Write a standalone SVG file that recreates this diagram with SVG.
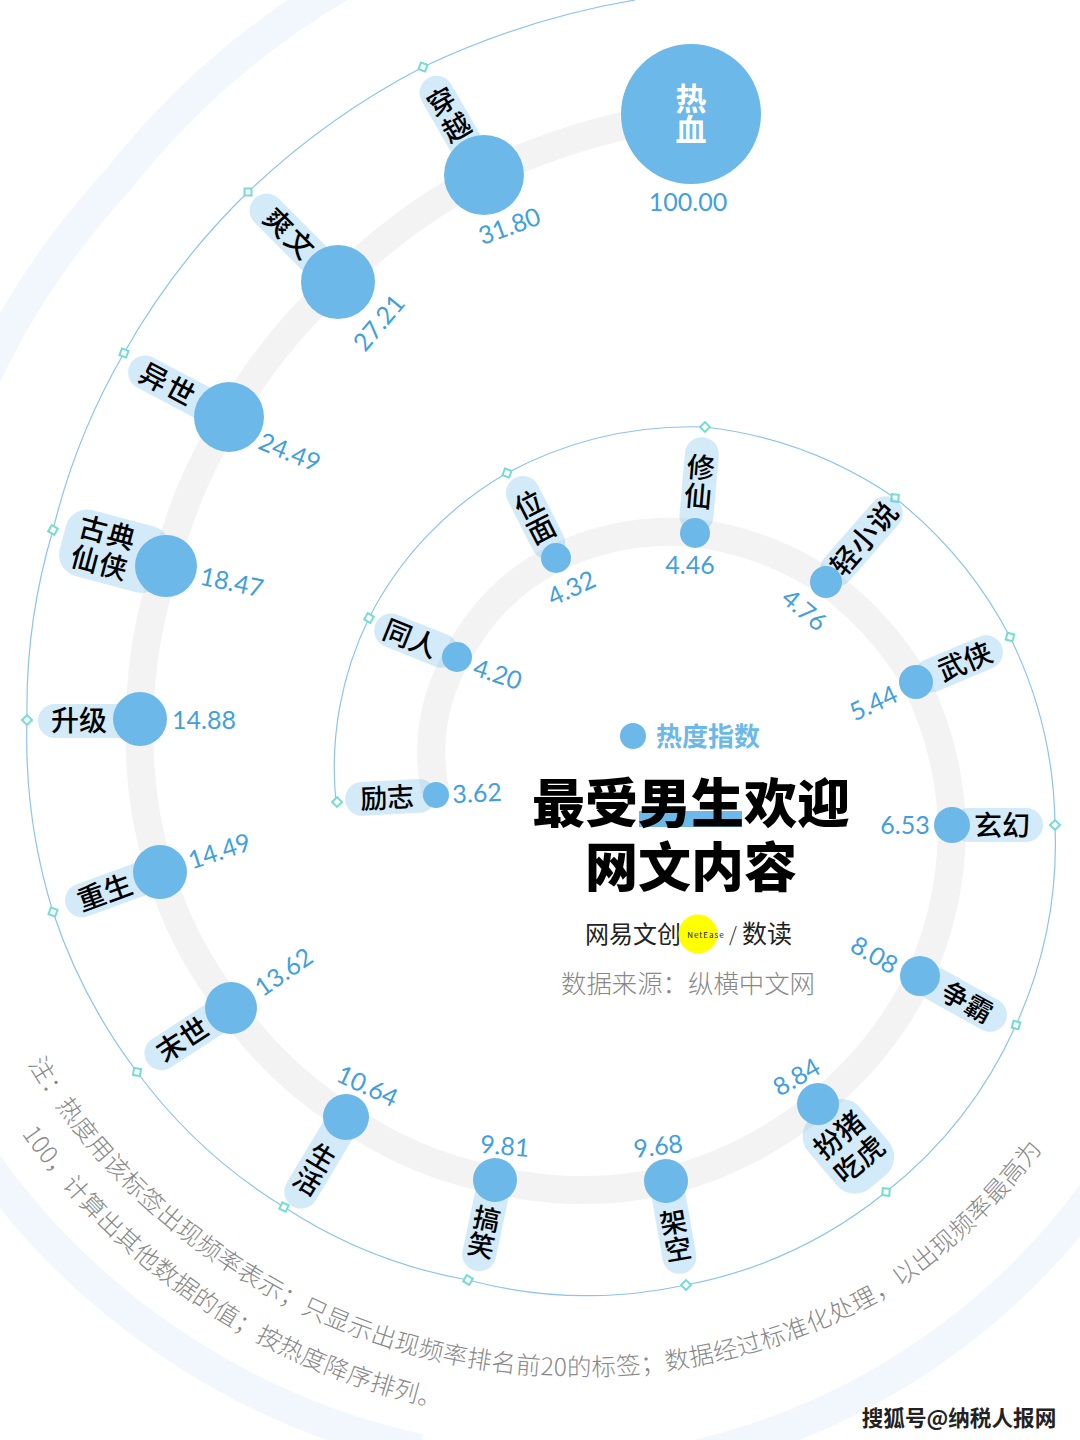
<svg xmlns="http://www.w3.org/2000/svg" width="1080" height="1440" viewBox="0 0 1080 1440">
<style>
text{font-family:"Noto Sans CJK SC","Noto Sans",sans-serif;dominant-baseline:central;text-anchor:middle}
.band{fill:none;stroke:#f1f7fc;stroke-width:32}
.track{fill:none;stroke:#f3f3f3;stroke-width:28}
.thin{fill:none;stroke:#8cc4ec;stroke-width:1.2}
.dot{fill:#6cb8e8}
.pill{fill:#6cb8e8;fill-opacity:.3}
.lab{font-size:28px;font-weight:500;fill:#000;transform:translateY(-.055em)}
.val{font-family:Lato,"Noto Sans",sans-serif;font-size:25px;fill:#419fe0}
.note{font-size:24.5px;font-weight:300;fill:#888;text-anchor:start}
.dia{fill:#fff;stroke:#74dcd3;stroke-width:2}
</style>
<defs>
<rect id="d" class="dia" x="-3.5" y="-3.5" width="7" height="7"/>
<path id="n1" d="M30,1045 A630 630 0 0 0 272,1285 A620 620 0 0 0 585,1365 A613 613 0 0 0 876,1290 A600 600 0 0 0 1065,1095"/>
<path id="n2" d="M22,1115 A676 676 0 0 0 470,1403"/>
</defs>
<rect width="1080" height="1440" fill="#fff"/>
<g id="connectors">
<path class="band" d="M350,-20 A800 800 0 0 0 118,180 A780 780 0 0 0 -30,410"/>
<path class="band" d="M-30,1140 A725 725 0 0 0 420,1450"/>
<path class="band" d="M1110,1170 A690 690 0 0 1 700,1455"/>
<path class="track" d="M691,114 A663 663 0 0 0 484,175 A605 605 0 0 0 338,282 A550 550 0 0 0 229,417 A505 505 0 0 0 166,566 A470 470 0 0 0 140,719 A446 446 0 0 0 160,872 A425 425 0 0 0 231,1008 A407 407 0 0 0 346,1117 A396 396 0 0 0 495,1180 A390 390 0 0 0 666,1181 A384 384 0 0 0 818,1104 A377 377 0 0 0 920,976 A368 368 0 0 0 952,825 A355 355 0 0 0 916,682 A334 334 0 0 0 826,582 A304 304 0 0 0 695,533 A265 265 0 0 0 556,558 A220 220 0 0 0 457,657 A190 190 0 0 0 436,795"/>
<path class="thin" d="M336,802 A340 340 0 0 1 369,618 A351 351 0 0 1 507,473 A393 393 0 0 1 705,427 A421 421 0 0 1 895,498 A433 433 0 0 1 1010,637 A435 435 0 0 1 1055,825 A438 438 0 0 1 1016,1025 A445 445 0 0 1 886,1192 A455 455 0 0 1 686,1285 A467 467 0 0 1 468,1280 A490 490 0 0 1 284,1207 A522 522 0 0 1 137,1072 A556 556 0 0 1 53,912 A588 588 0 0 1 27,720 A622 622 0 0 1 53,530 A664 664 0 0 1 124,353 A713 713 0 0 1 248,192 A763 763 0 0 1 423,67 A809 809 0 0 1 635,0"/>
<use href="#d" transform="translate(337,802) rotate(45)"/>
<use href="#d" transform="translate(369,618) rotate(30)"/>
<use href="#d" transform="translate(507,473) rotate(20)"/>
<use href="#d" transform="translate(705,427) rotate(45)"/>
<use href="#d" transform="translate(895,498) rotate(5)"/>
<use href="#d" transform="translate(1010,637) rotate(15)"/>
<use href="#d" transform="translate(1055,825) rotate(45)"/>
<use href="#d" transform="translate(1016,1025) rotate(15)"/>
<use href="#d" transform="translate(886,1192) rotate(5)"/>
<use href="#d" transform="translate(686,1285) rotate(45)"/>
<use href="#d" transform="translate(468,1280) rotate(30)"/>
<use href="#d" transform="translate(284,1207) rotate(25)"/>
<use href="#d" transform="translate(137,1072) rotate(10)"/>
<use href="#d" transform="translate(53,912) rotate(20)"/>
<use href="#d" transform="translate(27,720) rotate(45)"/>
<use href="#d" transform="translate(53,530) rotate(30)"/>
<use href="#d" transform="translate(124,353) rotate(20)"/>
<use href="#d" transform="translate(248,192) rotate(0)"/>
<use href="#d" transform="translate(423,67) rotate(20)"/>
</g>
<g id="node-rexue">
<circle class="dot" cx="691" cy="114" r="70"/>
<text x="691" y="96" font-size="31" font-weight="700" fill="#fff">热</text>
<text x="691" y="127" font-size="31" font-weight="700" fill="#fff">血</text>
<text class="val" x="688" y="201">100.00</text>
</g>
<g id="node-chuanyue">
<g transform="translate(484,175) rotate(-30)"><rect class="pill" x="-17" y="-112" width="34" height="112" rx="17"/><text class="lab" x="0" y="-85">穿</text><text class="lab" x="0" y="-55">越</text></g>
<circle class="dot" cx="484" cy="175" r="40"/>
<text class="val" transform="translate(509,225) rotate(-20)">31.80</text>
</g>
<g id="node-shuangwen">
<g transform="translate(338,282) rotate(45)"><rect class="pill" x="-118" y="-17" width="118" height="34" rx="17"/><text class="lab" x="-68" letter-spacing="2">爽文</text></g>
<circle class="dot" cx="338" cy="282" r="37"/>
<text class="val" transform="translate(378,322) rotate(-50)">27.21</text>
</g>
<g id="node-yishi">
<g transform="translate(229,417) rotate(28)"><rect class="pill" x="-112" y="-17" width="112" height="34" rx="17"/><text class="lab" x="-69" letter-spacing="2">异世</text></g>
<circle class="dot" cx="229" cy="417" r="35"/>
<text class="val" transform="translate(290,451) rotate(22)">24.49</text>
</g>
<g id="node-gudian">
<g transform="translate(166,566) rotate(15)"><rect class="pill" x="-107" y="-35" width="107" height="68" rx="22"/><text class="lab" x="-65" y="-17" letter-spacing="1">古典</text><text class="lab" x="-65" y="14" letter-spacing="1">仙侠</text></g>
<circle class="dot" cx="166" cy="566" r="31"/>
<text class="val" transform="translate(232,581) rotate(12)">18.47</text>
</g>
<g id="node-shengji">
<rect class="pill" x="38" y="704" width="102" height="34" rx="17"/>
<text class="lab" x="79" y="721">升级</text>
<circle class="dot" cx="140" cy="719" r="27"/>
<text class="val" x="204" y="719">14.88</text>
</g>
<g id="node-chongsheng">
<g transform="translate(160,872) rotate(-20)"><rect class="pill" x="-100" y="-17" width="100" height="34" rx="17"/><text class="lab" x="-59">重生</text></g>
<circle class="dot" cx="160" cy="872" r="27"/>
<text class="val" transform="translate(219,850) rotate(-18)">14.49</text>
</g>
<g id="node-moshi">
<g transform="translate(231,1008) rotate(-33)"><rect class="pill" x="-100" y="-17" width="100" height="34" rx="17"/><text class="lab" x="-58">末世</text></g>
<circle class="dot" cx="231" cy="1008" r="26"/>
<text class="val" transform="translate(283,971) rotate(-35)">13.62</text>
</g>
<g id="node-shenghuo">
<g transform="translate(346,1117) rotate(31)"><rect class="pill" x="-17" y="0" width="34" height="104" rx="17"/><text class="lab" x="0" y="47" style="font-size:27px">生</text><text class="lab" x="0" y="75" style="font-size:27px">活</text></g>
<circle class="dot" cx="346" cy="1117" r="23"/>
<text class="val" transform="translate(368,1085) rotate(25)">10.64</text>
</g>
<g id="node-gaoxiao">
<g transform="translate(495,1180) rotate(12)"><rect class="pill" x="-17" y="0" width="34" height="93" rx="17"/><text class="lab" x="0" y="40" style="font-size:27px">搞</text><text class="lab" x="0" y="67" style="font-size:27px">笑</text></g>
<circle class="dot" cx="495" cy="1180" r="22"/>
<text class="val" transform="translate(505,1145) rotate(5)">9.81</text>
</g>
<g id="node-jiakong">
<g transform="translate(666,1181) rotate(-10)"><rect class="pill" x="-17" y="0" width="34" height="94" rx="17"/><text class="lab" x="0" y="42" style="font-size:27px">架</text><text class="lab" x="0" y="69" style="font-size:27px">空</text></g>
<circle class="dot" cx="666" cy="1181" r="22"/>
<text class="val" transform="translate(658,1145) rotate(-7)">9.68</text>
</g>
<g id="node-banzhu">
<g transform="translate(818,1104) rotate(-40)"><rect class="pill" x="-38" y="6" width="68" height="92" rx="24"/><text class="lab" x="-4" y="37">扮猪</text><text class="lab" x="-4" y="69">吃虎</text></g>
<circle class="dot" cx="818" cy="1104" r="21"/>
<text class="val" transform="translate(796,1076) rotate(-30)">8.84</text>
</g>
<g id="node-zhengba">
<g transform="translate(920,976) rotate(29)"><rect class="pill" x="0" y="-17" width="97" height="34" rx="17"/><text class="lab" x="54" style="font-size:27px">争霸</text></g>
<circle class="dot" cx="920" cy="976" r="20"/>
<text class="val" transform="translate(875,954) rotate(30)">8.08</text>
</g>
<g id="node-xuanhuan">
<rect class="pill" x="952" y="808" width="91" height="34" rx="17"/>
<text class="lab" x="1002" y="826">玄幻</text>
<circle class="dot" cx="952" cy="825" r="18"/>
<text class="val" x="905" y="824">6.53</text>
</g>
<g id="node-wuxia">
<g transform="translate(916,682) rotate(-23)"><rect class="pill" x="0" y="-17" width="93" height="34" rx="17"/><text class="lab" x="53">武侠</text></g>
<circle class="dot" cx="916" cy="682" r="17"/>
<text class="val" transform="translate(873,702) rotate(-25)">5.44</text>
</g>
<g id="node-qingxiaoshuo">
<g transform="translate(826,582) rotate(-49)"><rect class="pill" x="0" y="-17" width="108" height="34" rx="17"/><text class="lab" x="58" letter-spacing="1">轻小说</text></g>
<circle class="dot" cx="826" cy="582" r="16"/>
<text class="val" transform="translate(805,609) rotate(40)">4.76</text>
</g>
<g id="node-xiuxian">
<g transform="translate(695,533) rotate(5)"><rect class="pill" x="-17" y="-96" width="34" height="96" rx="17"/><text class="lab" x="0" y="-66">修</text><text class="lab" x="0" y="-37">仙</text></g>
<circle class="dot" cx="695" cy="533" r="15"/>
<text class="val" x="690" y="564">4.46</text>
</g>
<g id="node-weimian">
<g transform="translate(556,558) rotate(-27)"><rect class="pill" x="-17" y="-90" width="34" height="90" rx="17"/><text class="lab" x="0" y="-60">位</text><text class="lab" x="0" y="-32">面</text></g>
<circle class="dot" cx="556" cy="558" r="15"/>
<text class="val" transform="translate(571,587) rotate(-25)">4.32</text>
</g>
<g id="node-tongren">
<g transform="translate(457,657) rotate(22)"><rect class="pill" x="-88" y="-17" width="88" height="34" rx="17"/><text class="lab" x="-50">同人</text></g>
<circle class="dot" cx="457" cy="657" r="15"/>
<text class="val" transform="translate(498,673) rotate(18)">4.20</text>
</g>
<g id="node-lizhi">
<g transform="translate(436,795) rotate(-3)"><rect class="pill" x="-91" y="-17" width="91" height="34" rx="17"/><text class="lab" x="-49" style="font-size:27px">励志</text></g>
<circle class="dot" cx="436" cy="795" r="13"/>
<text class="val" transform="translate(477,792) rotate(-3)">3.62</text>
</g>
<g id="legend">
<circle class="dot" cx="633" cy="736" r="13"/>
<text x="708" y="734" font-size="26" font-weight="700" fill="#6cb8e8">热度指数</text>
</g>
<g id="title">
<rect x="639" y="811" width="103" height="16" fill="#6cb8e8"/>
<text x="691" y="800" font-size="53" font-weight="900" fill="#000">最受男生欢迎</text>
<text x="691" y="864" font-size="53" font-weight="900" fill="#000">网文内容</text>
</g>
<g id="logo">
<text x="633" y="932" font-size="24" font-weight="400" fill="#222">网易文创</text>
<circle cx="698" cy="934" r="19.5" fill="#ffff00"/>
<text x="706" y="934" font-size="8" letter-spacing="1" font-weight="400" fill="#222">NetEase</text>
<text x="733" y="933" font-size="20" font-weight="300" fill="#222">/</text>
<text x="767" y="932" font-size="25" font-weight="400" fill="#222">数读</text>
<text x="688" y="982" font-size="25.4" font-weight="300" fill="#888">数据来源：纵横中文网</text>
</g>
<g id="note">
<text class="note"><textPath href="#n1" startOffset="15">注：热度用该标签出现频率表示；只显示出现频率排名前20的标签；数据经过标准化处理，以出现频率最高为</textPath></text>
<text class="note"><textPath href="#n2" startOffset="15">100，计算出其他数据的值；按热度降序排列。</textPath></text>
</g>
<text x="959" y="1416" font-size="21.6" font-weight="700" fill="#222" stroke="#fff" stroke-width="2" paint-order="stroke">搜狐号@纳税人报网</text>
</svg>
